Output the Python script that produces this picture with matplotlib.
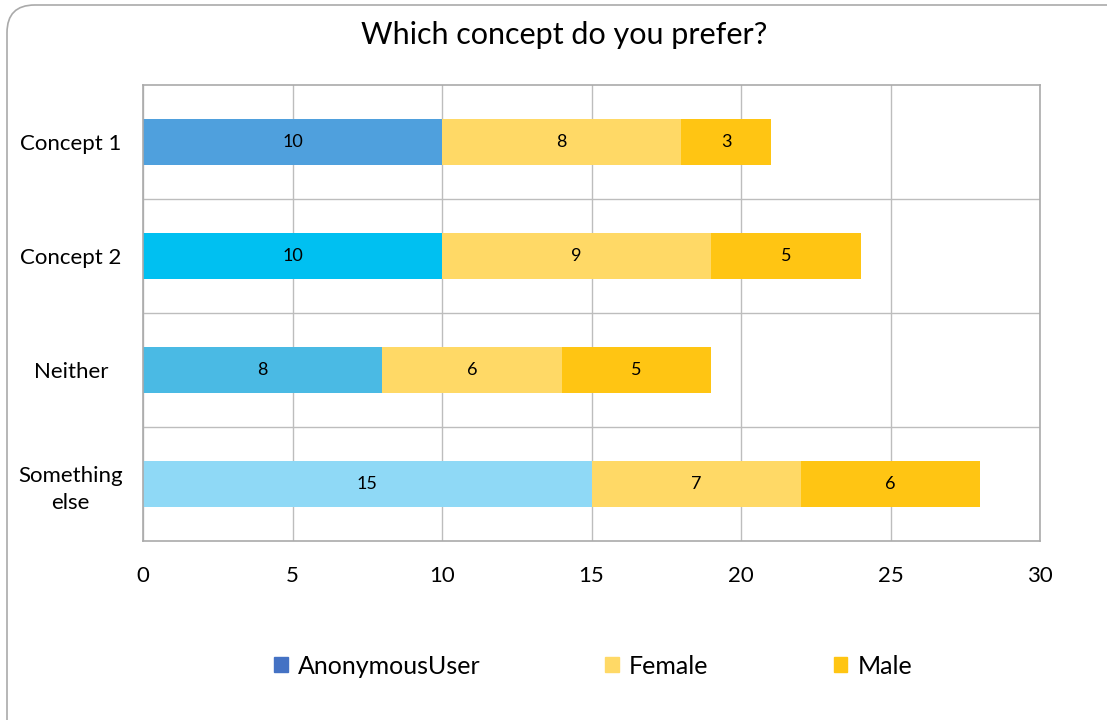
import matplotlib
matplotlib.use("Agg")
import matplotlib.pyplot as plt
from matplotlib.patches import FancyBboxPatch, Patch
import numpy as np

categories = ["Concept 1", "Concept 2", "Neither", "Something\nelse"]
anonymous = [10, 10, 8, 15]
female = [8, 9, 6, 7]
male = [3, 5, 5, 6]
series_names = ["AnonymousUser", "Female", "Male"]
xticks = [0, 5, 10, 15, 20, 25, 30]

anon_colors = ["#4FA0DD", "#00C0F1", "#4ABAE4", "#8FD9F6"]
anon_legend_color = "#4472C4"
female_color = "#FFD966"
male_color = "#FFC513"

plt.rcParams['font.family'] = ['Lato', 'DejaVu Sans']

fig = plt.figure(figsize=(11.07, 7.2), dpi=100)
W, H = 1107, 720

# rounded outer border
border = FancyBboxPatch((7 / W, -0.1), 1.2, 1 - 5 / H + 0.1,
                        boxstyle="round,pad=0,rounding_size=0.025",
                        transform=fig.transFigure, fill=False,
                        edgecolor="#AAAAAA", linewidth=1.2, mutation_aspect=W / H)
fig.patches.append(border)

ax = fig.add_axes([143 / W, 1 - 541 / H, (1040 - 143) / W, (541 - 85) / H])

y = np.arange(len(categories))
h = 0.4
anon = np.array(anonymous)
fem = np.array(female)
mal = np.array(male)

b1 = ax.barh(y, anon, height=h, color=anon_colors, linewidth=0)
b2 = ax.barh(y, fem, left=anon, height=h, color=female_color, linewidth=0)
b3 = ax.barh(y, mal, left=anon + fem, height=h, color=male_color, linewidth=0)

for bars in (b1, b2, b3):
    ax.bar_label(bars, label_type="center", fontsize=13, color="#000000")

ax.set_xlim(0, 30)
ax.set_ylim(len(categories) - 0.5, -0.5)
ax.set_xticks(xticks)
ax.set_xticklabels([str(t) for t in xticks], fontsize=16)
ax.set_yticks(y)
ax.set_yticklabels(categories, fontsize=16, ha="center", linespacing=1.45)
ax.tick_params(axis="y", pad=52, length=0)
ax.tick_params(axis="x", length=0, pad=18)

# gridlines: vertical at ticks, horizontal at category boundaries
for t in xticks:
    ax.axvline(t, color="#BDBDBD", linewidth=1, zorder=0)
for b in np.arange(0.5, len(categories) - 0.5, 1):
    ax.axhline(b, color="#BDBDBD", linewidth=1, zorder=0)
for s in ax.spines.values():
    s.set_color("#AAAAAA")
    s.set_linewidth(1.2)

fig.text(564 / W, 1 - 35 / H, "Which concept do you prefer?", ha="center", va="center", fontsize=22)

handles = [Patch(color=anon_legend_color), Patch(color=female_color), Patch(color=male_color)]
fig.legend(handles, series_names, loc="center", bbox_to_anchor=(593 / W, 1 - 666 / H),
           ncol=3, frameon=False, fontsize=18, handlelength=0.55, handleheight=0.55,
           handletextpad=0.4, columnspacing=5.0)

fig.savefig("out.png", dpi=100)
